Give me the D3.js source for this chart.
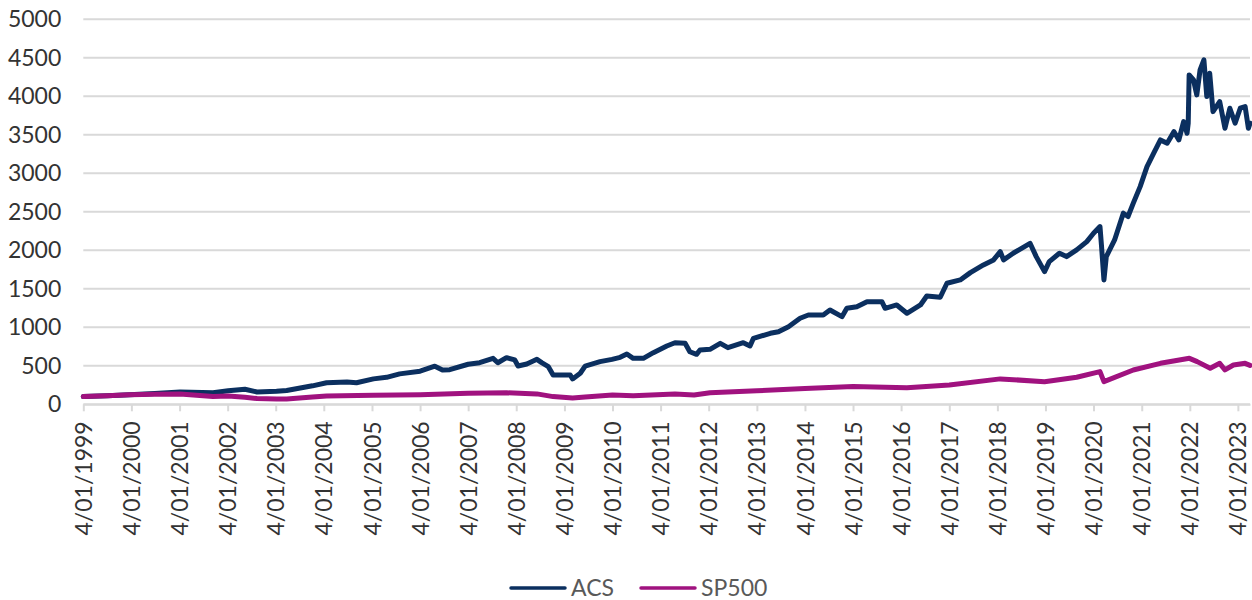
<!DOCTYPE html>
<html>
<head>
<meta charset="utf-8">
<script src="https://cdn.jsdelivr.net/npm/d3@7"></script>
<style>
  body { margin: 0; background: #fff; }
  #chart text { font-family: 'Lato', 'Liberation Sans', sans-serif; }
</style>
</head>
<body>
<div id="chart"></div>
<script>
// Series data (index level, base 100 on 4/01/1999)
const acsDates = [
  '1999-01-04','1999-07-05','1999-12-20','2000-06-30','2001-01-08','2001-09-15','2002-01-08','2002-05-15',
  '2002-08-15','2003-01-10','2003-03-28','2003-10-10','2004-01-25','2004-06-28','2004-09-08','2005-01-15',
  '2005-04-25','2005-08-02','2006-01-04','2006-04-26','2006-06-23','2006-08-17','2007-01-04','2007-04-01',
  '2007-07-12','2007-08-17','2007-10-22','2007-12-24','2008-01-18','2008-03-24','2008-06-09','2008-07-15',
  '2008-09-04','2008-10-10','2008-12-27','2009-02-17','2009-03-07','2009-05-04','2009-06-10','2009-10-01',
  '2009-12-31','2010-03-03','2010-04-23','2010-06-10','2010-08-26','2010-11-10','2011-02-20','2011-04-23',
  '2011-07-09','2011-08-14','2011-10-04','2011-10-30','2012-01-14','2012-04-01','2012-05-29','2012-09-23',
  '2012-11-13','2012-12-09','2013-04-16','2013-06-17','2013-09-01','2013-11-28','2014-01-30','2014-05-23',
  '2014-07-13','2014-10-12','2014-11-18','2015-02-02','2015-04-20','2015-08-11','2015-09-05','2015-12-02',
  '2016-02-17','2016-05-30','2016-07-17','2016-10-27','2016-12-17','2017-03-28','2017-06-13','2017-09-20',
  '2017-12-06','2018-01-26','2018-02-20','2018-05-04','2018-09-09','2018-10-26','2018-12-28','2019-02-02',
  '2019-04-20','2019-06-13','2019-08-29','2019-11-14','2020-01-04','2020-02-22','2020-03-05','2020-03-23',
  '2020-04-10','2020-06-12','2020-08-17','2020-09-22','2020-11-01','2020-12-23','2021-02-13','2021-04-05',
  '2021-05-26','2021-07-16','2021-09-06','2021-10-13','2021-11-18','2021-12-14','2021-12-23','2021-12-30',
  '2022-02-01','2022-02-26','2022-03-23','2022-04-21','2022-05-13','2022-06-04','2022-06-29','2022-08-19',
  '2022-09-28','2022-11-04','2022-12-14','2023-01-22','2023-02-28','2023-03-25','2023-04-06'
];
const acsValues = [
  100, 110, 125, 140, 160, 150, 175, 195,
  160, 170, 180, 240, 280, 290, 280, 330,
  350, 395, 430, 495, 446, 450, 520, 540,
  597, 540, 606, 576, 497, 524, 584, 541,
  489, 381, 381, 380, 329, 403, 497, 554,
  584, 610, 653, 597, 597, 671, 757, 800,
  792, 683, 649, 705, 714, 792, 735, 800,
  757, 857, 922, 943, 1008, 1117, 1160, 1160,
  1225, 1138, 1247, 1268, 1333, 1333, 1247, 1290,
  1182, 1290, 1407, 1390, 1572, 1615, 1710, 1810,
  1875, 1983, 1875, 1962, 2091, 1918, 1723, 1853,
  1962, 1918, 2005, 2113, 2222, 2308, 2048, 1615,
  1918, 2135, 2482, 2439, 2612, 2827, 3087, 3261,
  3433, 3390, 3541, 3433, 3671, 3520, 3650, 4278,
  4213, 4018, 4343, 4473, 3996, 4300, 3801, 3931,
  3585, 3845, 3650, 3845, 3866, 3585, 3650
];

const spDates = [
  '1999-01-04','1999-07-05','1999-12-20','2000-06-30','2001-01-08','2001-09-15','2002-01-08','2002-05-15',
  '2002-08-15','2003-01-10','2003-03-28','2003-10-10','2004-01-25','2005-01-15','2006-01-04','2007-01-04',
  '2007-10-22','2008-06-09','2008-10-10','2009-03-07','2009-06-10','2010-01-04','2010-06-10','2011-04-23',
  '2011-09-15','2012-01-14','2013-01-04','2014-01-04','2015-01-04','2015-09-05','2016-02-17','2017-01-04',
  '2018-01-26','2018-12-28','2019-08-29','2020-02-22','2020-03-23','2020-11-01','2021-05-26','2022-01-01',
  '2022-03-01','2022-06-08','2022-08-19','2022-09-28','2022-12-01','2023-02-28','2023-04-06'
];
const spValues = [
  100, 110, 125, 130, 133, 100, 108, 91,
  75, 69, 68, 95, 108, 118, 125, 143,
  150, 135, 100, 82, 95, 121, 110, 135,
  120, 150, 175, 205, 230, 220, 216, 250,
  330, 294, 351, 424, 294, 446, 532, 597,
  554, 468, 532, 446, 510, 532, 505
];

const seriesNames = ['ACS', 'SP500'];
const seriesColors = ['#0b2f5f', '#a0127f'];
const yTicks = [0, 500, 1000, 1500, 2000, 2500, 3000, 3500, 4000, 4500, 5000];
const xTickDates = [
  '1999-01-04','2000-01-04','2001-01-04','2002-01-04','2003-01-04','2004-01-04','2005-01-04',
  '2006-01-04','2007-01-04','2008-01-04','2009-01-04','2010-01-04','2011-01-04','2012-01-04',
  '2013-01-04','2014-01-04','2015-01-04','2016-01-04','2017-01-04','2018-01-04','2019-01-04',
  '2020-01-04','2021-01-04','2022-01-04','2023-01-04'
];

// Chart dimensions
let svgWidth = 1252;
let svgHeight = 600;
let margin = { top: 19.3, right: 2, bottom: 195.7, left: 83.3 };
let width = svgWidth - margin.left - margin.right;
let height = svgHeight - margin.top - margin.bottom;

let parseDate = d3.timeParse('%Y-%m-%d');
let formatTick = d3.timeFormat('%-d/%m/%Y');

let acs = acsDates.map((d, i) => ({ date: parseDate(d), value: acsValues[i] }));
let sp = spDates.map((d, i) => ({ date: parseDate(d), value: spValues[i] }));

let svg = d3.select('#chart')
  .append('svg')
  .attr('width', svgWidth)
  .attr('height', svgHeight);

let chartGroup = svg.append('g')
  .attr('transform', `translate(${margin.left}, ${margin.top})`);

// Scales
let xScale = d3.scaleTime()
  .domain([parseDate('1999-01-04'), parseDate('2023-04-06')])
  .range([0, width]);

let yScale = d3.scaleLinear()
  .domain([0, 5000])
  .range([height, 0]);

// Horizontal gridlines
chartGroup.append('g')
  .selectAll('line')
  .data(yTicks)
  .enter()
  .append('line')
  .attr('x1', 0)
  .attr('x2', width)
  .attr('y1', d => yScale(d))
  .attr('y2', d => yScale(d))
  .attr('stroke', '#d9d9d9')
  .attr('stroke-width', 2);

// Y axis labels (no thousands separator)
let yAxis = d3.axisLeft(yScale)
  .tickValues(yTicks)
  .tickFormat(d3.format('d'))
  .tickSize(0)
  .tickPadding(22);
let yAxisG = chartGroup.append('g').call(yAxis);
yAxisG.select('.domain').remove();
yAxisG.selectAll('text')
  .attr('font-size', '23px')
  .attr('fill', '#333');

// X axis with year ticks
let xAxis = d3.axisBottom(xScale)
  .tickValues(xTickDates.map(parseDate))
  .tickFormat(formatTick)
  .tickSize(7)
  .tickSizeOuter(0);
let xAxisG = chartGroup.append('g')
  .attr('transform', `translate(0, ${height})`)
  .call(xAxis);
xAxisG.select('.domain').attr('stroke', '#d9d9d9').attr('stroke-width', 2);
xAxisG.selectAll('.tick line').attr('stroke', '#d9d9d9').attr('stroke-width', 2);
xAxisG.selectAll('text')
  .attr('font-size', '23px')
  .attr('fill', '#333')
  .attr('transform', 'rotate(-90)')
  .attr('text-anchor', 'end')
  .attr('x', -17)
  .attr('y', 0)
  .attr('dy', '0.35em');

// Lines
let line = d3.line()
  .x(d => xScale(d.date))
  .y(d => yScale(d.value));

[acs, sp].forEach((data, i) => {
  chartGroup.append('path')
    .datum(data)
    .attr('fill', 'none')
    .attr('stroke', seriesColors[i])
    .attr('stroke-width', 5)
    .attr('stroke-linejoin', 'round')
    .attr('stroke-linecap', 'round')
    .attr('d', line);
});

// Legend
let legendX = [511, 641];
let legend = svg.append('g').attr('transform', 'translate(0, 588)');
seriesNames.forEach((name, i) => {
  legend.append('line')
    .attr('x1', legendX[i])
    .attr('x2', legendX[i] + 54)
    .attr('y1', 0)
    .attr('y2', 0)
    .attr('stroke', seriesColors[i])
    .attr('stroke-width', 3.5)
    .attr('stroke-linecap', 'round');
  legend.append('text')
    .attr('x', legendX[i] + 60)
    .attr('y', 0)
    .attr('dy', '0.35em')
    .attr('font-size', '23px')
    .attr('fill', '#595959')
    .text(name);
});
</script>
</body>
</html>
